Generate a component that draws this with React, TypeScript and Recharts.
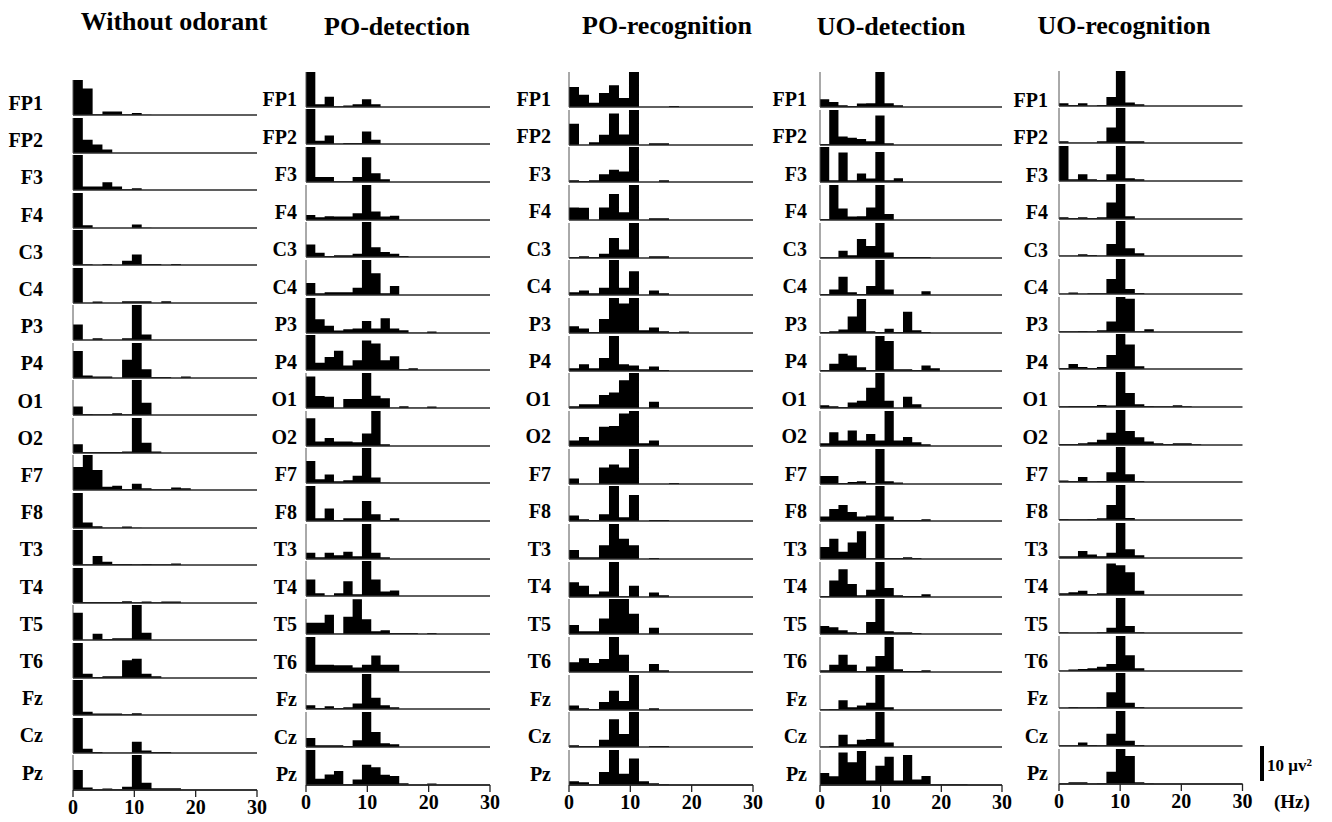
import React from 'react';
import { AreaChart, Area, XAxis, YAxis, BarChart, Bar, ReferenceLine } from 'recharts';

const channels = ['FP1', 'FP2', 'F3', 'F4', 'C3', 'C4', 'P3', 'P4', 'O1', 'O2', 'F7', 'F8', 'T3', 'T4', 'T5', 'T6', 'Fz', 'Cz', 'Pz'];
const conditionTitles = ['Without odorant', 'PO-detection', 'PO-recognition', 'UO-detection', 'UO-recognition'];
const binWidthHz = [1.6, 1.52, 1.63, 1.52, 1.55];
const freqTicks = [0, 10, 20, 30];
const scaleBarValue = [{ name: 'scale', v: 10 }];

const withoutOdorant: number[][] = [
  [10, 7.6, 0.2, 1, 1, 0.2, 0.6, 0.1],
  [10, 3.8, 2.4, 1.0],
  [10, 1.0, 1.0, 2.2, 1.0, 0.2, 0.5],
  [10, 0.8, 0, 0, 0, 0, 1.0, 0.1],
  [10, 0.2, 0, 0.3, 0, 1.2, 3.0, 0.3, 0.3, 0, 0.3],
  [10, 0, 0.4, 0, 0, 0.5, 0.5, 0.5, 0, 0.5],
  [4.4, 0, 0.5, 0, 0, 0.5, 10, 1.6],
  [7.7, 0.7, 0.4, 0.4, 0, 5.2, 10, 2.5, 0.3, 0.3, 0, 0.4],
  [2.4, 0.3, 0.2, 0.2, 0.5, 0.2, 10, 3.5],
  [2.5, 0.3, 0.3, 0.3, 0.3, 0.4, 10, 2.9, 0.4],
  [6.6, 10, 5.7, 0.9, 1.2, 0.3, 1.8, 0.5, 0.2, 0.2, 0.7, 0.5],
  [10, 1.6, 0.5, 0.1, 0.1, 0.4, 0.1],
  [10, 0.2, 2.6, 0.9, 0.3, 0.3, 0.2, 0.3, 0.2, 0.2, 0.4],
  [10, 0.3, 0.3, 0.3, 0.3, 0.5, 0.2, 0.4, 0.2, 0.4, 0.4],
  [7.8, 0, 1.8, 0.3, 0.5, 0.5, 10, 2.1],
  [10, 1.2, 0.3, 0.5, 0.5, 5.1, 5.5, 1.2, 0.5],
  [10, 0.9, 0.4, 0.4, 0.4, 0.2, 0.5],
  [10, 1.2, 0.3, 0.1, 0.1, 0.1, 3.2, 0.7, 0.3, 0.3],
  [5.7, 0.7, 0.2, 0.4, 0.2, 0.9, 10, 2.1, 0.5, 0.5, 0.5],
];

const poDetection: number[][] = [
  [10, 0.8, 2.9, 0.2, 0.4, 0.8, 2.2, 0.8],
  [10, 0.9, 2.4, 0.1, 0.3, 0.3, 3.6, 1.2],
  [10, 1.4, 1.4, 0.2, 0.2, 1.4, 7.1, 2.5, 0.8],
  [1.4, 0.8, 1.1, 1.0, 1.0, 1.9, 10, 2.4, 1.0, 1.2],
  [3.6, 1.2, 0.3, 0.5, 0.5, 0.9, 10, 2.8, 1.4, 0.9, 0.3],
  [3.4, 0.5, 0.8, 0.8, 0.8, 2.1, 10, 6.2, 0.5, 2.6],
  [10, 3.9, 2.1, 0.7, 1.1, 1.3, 3.4, 1.3, 4.2, 1.3, 0.8, 0.1, 0.1, 0.4],
  [10, 2.1, 3.7, 5.5, 1.3, 2.8, 8.4, 7.6, 2.8, 3.9, 0.2, 0.5],
  [9, 3.4, 3.2, 0, 2.6, 2.6, 10, 3.5, 2.8, 0.1, 0.5, 0.1, 0.1, 0.4],
  [7.9, 1.3, 2.3, 1.3, 1.3, 1.1, 3.6, 10, 0.5],
  [6.3, 1.1, 2.4, 0.5, 0.8, 2.1, 10, 1.6, 0.1],
  [10, 0.8, 3.6, 0.3, 0.8, 0.8, 5.7, 1.9, 0.3, 0.8],
  [1.8, 0.5, 1.8, 1.1, 2.1, 0.8, 10, 1.8, 0.5],
  [4.7, 0.8, 0.1, 0.8, 4.2, 0.5, 10, 4.7, 1.3, 1.6],
  [3.2, 3.2, 5.5, 0.1, 4.9, 9.9, 4.2, 0.8, 1.1, 0.3, 0.3, 0.3, 0, 0.3],
  [10, 2.1, 2.1, 1.9, 1.9, 1.3, 2.1, 4.7, 2.1, 2.1],
  [1.1, 0.3, 0.8, 0.3, 0.5, 1.6, 10, 3.2, 1.1, 0.5],
  [2.6, 0.5, 0.5, 0.5, 0.3, 1.9, 10, 4.3, 1.1, 0.8],
  [10, 1.8, 3.0, 4.0, 0.3, 1.6, 5.8, 5.1, 2.9, 2.6, 0.5, 0, 0, 0.4],
];

const poRecognition: number[][] = [
  [5.7, 3.5, 1.2, 4.0, 6.2, 2.6, 10, 0, 0, 0, 0.3],
  [6.1, 0, 0.8, 2.9, 9.0, 3.0, 10, 0, 0.5, 0.5],
  [0.5, 0.3, 0.5, 2.2, 3.5, 3.0, 10, 0, 0, 0.5],
  [3.6, 3.5, 0, 3.6, 7.4, 2.2, 10, 0, 0.5, 0.5],
  [0.3, 0.5, 0.3, 1.2, 5.7, 2.4, 10, 0, 0.5, 0.5],
  [0.8, 1.3, 0.5, 2.1, 10, 2.1, 6.8, 0, 1.3, 0.5],
  [1.9, 1.3, 0.3, 4.0, 10, 8.4, 10, 0.8, 1.6, 0.5, 0.2, 0.4],
  [0.8, 1.9, 0.8, 3.7, 10, 1.9, 1.6, 0.5, 1.3, 0.3],
  [0.5, 1.1, 1.1, 3.7, 4.4, 7.9, 10, 0, 1.8],
  [1.6, 2.6, 1.6, 5.5, 5.7, 9.3, 10, 0.8, 1.6],
  [1.6, 0, 0, 4.7, 5.6, 4.7, 10, 0, 0, 0, 0.3],
  [1.6, 0.5, 0.3, 1.9, 10, 1.1, 7.4, 0, 0.3, 0.3],
  [2.6, 0.5, 0.5, 3.9, 10, 5.8, 3.9, 0, 0.3],
  [4.2, 3.2, 0.8, 1.6, 10, 0.2, 3.2, 0, 1.3, 0.5],
  [2.6, 0.8, 0.8, 4.4, 10, 10, 5.8, 0, 1.8],
  [2.8, 3.9, 2.6, 3.7, 10, 4.9, 0.1, 0.1, 2.3, 0.5],
  [1.3, 0.5, 0.3, 2.3, 5.5, 2.6, 10, 0, 0.5],
  [0.5, 0.3, 0.3, 2.1, 7.9, 3.7, 10, 0, 0.3, 0.3],
  [1.1, 0.8, 0.3, 3.7, 10, 3.2, 7.6, 1.1, 0.5, 0.3],
];

const uoDetection: number[][] = [
  [2.2, 1.4, 0.5, 0.3, 1.0, 1.1, 10, 1.1, 0.5],
  [0.3, 10, 2.4, 2.1, 1.7, 1.1, 8.4, 0.5],
  [10, 0.5, 8.4, 0.5, 2.4, 1.0, 8.6, 0.5, 1.1],
  [0.3, 10, 3.3, 1.0, 1.1, 3.6, 10, 1.7],
  [0.2, 0.2, 2.1, 0.8, 5.4, 3.4, 10, 1.6, 0.3, 0.3, 0.3, 0.3],
  [0.3, 1.6, 5.2, 0.8, 0.3, 2.6, 10, 1.6, 0, 0, 0, 1.1],
  [0.3, 0.5, 1.0, 4.7, 9.7, 0.5, 0.3, 1.2, 0.3, 6.1, 0.8, 0.3],
  [0.3, 2.1, 4.9, 4.4, 1.1, 0.3, 10, 8.6, 0.5, 0.5, 0.3, 1.6, 0.8],
  [0.8, 0.5, 0.3, 1.6, 2.1, 5.8, 10, 2.1, 0, 3.2, 1.1],
  [0.8, 3.9, 1.6, 4.4, 1.6, 3.4, 1.6, 10, 1.6, 2.6, 1.1, 0.5],
  [2.3, 2.3, 0.3, 0.6, 0.8, 0.3, 10, 0.8, 0.4],
  [1.3, 3.4, 4.6, 2.6, 1.3, 1.6, 10, 1.3, 0.3, 0.3, 0.3, 0.5],
  [3.4, 5.8, 2.1, 4.7, 7.9, 0.2, 10, 0.3, 0.3, 0.5, 0.3],
  [0.3, 4.7, 7.9, 3.7, 0.5, 2.1, 10, 2.6, 0.5, 0.3, 0.3, 0.8],
  [2.3, 1.9, 1.1, 0.5, 0.3, 3.4, 10, 0.8, 0.5, 0.5, 0.3],
  [0.5, 2.1, 4.9, 2.1, 0.3, 1.6, 4.6, 10, 0.8, 0.3, 0.3, 0.5],
  [0.2, 0.3, 2.8, 0.8, 1.3, 2.1, 10, 0.8],
  [0.1, 0.3, 3.5, 0.8, 2.1, 2.3, 10, 1.3],
  [3.4, 2.5, 9.3, 6.5, 9.7, 1.3, 5.5, 8.1, 1.3, 8.6, 1.6, 2.6, 0.2, 0.3, 0.3, 0.3],
];

const uoRecognition: number[][] = [
  [0.8, 0.3, 0.8, 0.05, 0.3, 2.6, 10, 1.0, 0.5],
  [0.5, 0.05, 0.05, 0.05, 0.5, 4.4, 10, 0.5, 0.5],
  [10, 0.5, 1.9, 0.5, 0.3, 1.9, 10, 0.8, 0.5],
  [0.5, 0.3, 0.5, 0.3, 0.5, 4.7, 10, 0.8],
  [0.1, 0.1, 0.5, 0.3, 0.1, 3.4, 10, 2.2, 0.8],
  [0.1, 0.4, 0.1, 0.2, 0.2, 4.3, 10, 1.4, 0.3],
  [0.2, 0.2, 0.3, 0.2, 0.5, 3.0, 10, 9.5, 0.2, 0.8],
  [0.3, 1.4, 0.6, 0.3, 0.6, 4.0, 10, 7.0, 0.8],
  [0.2, 0.3, 0.3, 0.3, 0.6, 0.4, 10, 4.0, 0.8, 0.3, 0.2, 0.2, 0.5, 0.2],
  [0.3, 0.3, 0.5, 0.8, 1.5, 3.5, 10, 4.0, 2.2, 1.0, 0.5, 0.3, 0.5, 0.5, 0.2],
  [0.4, 0.3, 1.4, 0.2, 0.3, 2.8, 10, 2.2, 0.3],
  [0.3, 0.2, 0.2, 0.3, 0.5, 4.3, 10, 0.6],
  [0.5, 0.5, 2.0, 1.0, 0.5, 1.5, 10, 2.5, 0.8],
  [0.5, 0.8, 1.2, 0.3, 0.5, 9.0, 8.5, 6.5, 1.2],
  [0.2, 0.1, 0.1, 0.1, 0.2, 1.5, 10, 2.0, 0.2],
  [0.1, 0.4, 0.6, 0.8, 1.2, 2.0, 10, 4.5, 0.8],
  [0.1, 0.3, 0.2, 0.2, 0.3, 4.5, 10, 1.5, 0.3],
  [0.2, 0.2, 1.0, 0.3, 0.2, 3.5, 10, 1.5, 0.3],
  [0.2, 0.5, 0.5, 0.1, 0.3, 3.5, 10, 8.0, 0.5, 0.2],
];

const conditionData = [withoutOdorant, poDetection, poRecognition, uoDetection, uoRecognition];

const FONT = "'Liberation Serif', 'Times New Roman', Times, serif";
const PLOT_H = 35;

const columns = [
  { x0: 73, x30: 257, base0: 115, rowGap: 37.5, labelRight: 43, label0: 103, labelGap: 37.2, titleX: 174, titleY: 22 },
  { x0: 305.5, x30: 489.5, base0: 106.5, rowGap: 37.67, labelRight: 297, label0: 99, labelGap: 37.5, titleX: 397, titleY: 27 },
  { x0: 568.5, x30: 752.5, base0: 107, rowGap: 37.67, labelRight: 551, label0: 98.5, labelGap: 37.5, titleX: 667, titleY: 26 },
  { x0: 820, x30: 1002, base0: 107, rowGap: 37.67, labelRight: 807, label0: 98.5, labelGap: 37.5, titleX: 891, titleY: 27 },
  { x0: 1058.5, x30: 1242, base0: 105.5, rowGap: 37.67, labelRight: 1048, label0: 100, labelGap: 37.4, titleX: 1124, titleY: 26 },
];

function toSteps(values: number[], w: number) {
  const n = Math.ceil(30 / w) + 1;
  const pts: { f: number; v: number }[] = [];
  for (let k = 0; k <= n; k++) pts.push({ f: +(k * w).toFixed(4), v: values[k] ?? 0 });
  return pts;
}

const M = { top: 2, right: 18, bottom: 2, left: 12 };

function Panel({ values, w, x0, x30, base, bottom }: { values: number[]; w: number; x0: number; x30: number; base: number; bottom: boolean }) {
  const plotW = x30 - x0;
  const axisH = bottom ? 32 : 1;
  const height = PLOT_H + M.top + M.bottom + axisH;
  return (
    <div style={{ position: 'absolute', left: x0 - M.left, top: base - PLOT_H - M.top }}>
      <AreaChart width={plotW + M.left + M.right} height={height} data={toSteps(values, w)} margin={M}>
        <XAxis
          type="number"
          dataKey="f"
          domain={[0, 30]}
          allowDataOverflow
          ticks={freqTicks}
          interval={0}
          height={axisH}
          tick={bottom ? { fontFamily: FONT, fontWeight: 700, fontSize: 20, fill: '#000' } : false}
          tickLine={bottom ? { stroke: '#222', strokeWidth: 1.3 } : false}
          tickSize={7}
          tickMargin={3}
          axisLine={bottom ? { stroke: '#2a2a2a', strokeWidth: 1.4 } : false}
        />
        <YAxis type="number" domain={[0, 10]} allowDataOverflow hide />
        <Area
          type="stepAfter"
          dataKey="v"
          stroke="none"
          fill="#000"
          fillOpacity={1}
          isAnimationActive={false}
          dot={false}
          activeDot={false}
        />
        <ReferenceLine y={0} stroke="#2a2a2a" strokeWidth={1.5} />
        <ReferenceLine x={0} stroke="#555" strokeWidth={1} />
      </AreaChart>
    </div>
  );
}

export default function App() {
  return (
    <div style={{ position: 'absolute', left: 0, top: 0, width: 1332, height: 822, background: '#fff', overflow: 'hidden', fontFamily: FONT }}>
      {columns.map((col, c) => (
        <React.Fragment key={c}>
          <div
            style={{
              position: 'absolute',
              left: col.titleX,
              top: col.titleY,
              transform: 'translate(-50%, -50%)',
              fontSize: 26,
              fontWeight: 700,
              whiteSpace: 'nowrap',
              color: '#000',
            }}
          >
            {conditionTitles[c]}
          </div>
          {channels.map((ch, r) => (
            <React.Fragment key={ch}>
              <div
                style={{
                  position: 'absolute',
                  left: col.labelRight - 70,
                  width: 70,
                  top: col.label0 + r * col.labelGap - 12,
                  height: 24,
                  lineHeight: '24px',
                  textAlign: 'right',
                  fontSize: 20,
                  fontWeight: 700,
                  color: '#000',
                }}
              >
                {ch}
              </div>
              <Panel
                values={conditionData[c][r]}
                w={binWidthHz[c]}
                x0={col.x0}
                x30={col.x30}
                base={col.base0 + r * col.rowGap}
                bottom={r === channels.length - 1}
              />
            </React.Fragment>
          ))}
        </React.Fragment>
      ))}
      <div style={{ position: 'absolute', left: 1255, top: 746 }}>
        <BarChart width={14} height={PLOT_H} data={scaleBarValue} margin={{ top: 0, right: 0, bottom: 0, left: 0 }} barCategoryGap={0}>
          <XAxis dataKey="name" hide />
          <YAxis domain={[0, 10]} hide />
          <Bar dataKey="v" fill="#000" barSize={4} isAnimationActive={false} />
        </BarChart>
      </div>
      <div style={{ position: 'absolute', left: 1267, top: 754, fontSize: 17, fontWeight: 700, whiteSpace: 'nowrap', lineHeight: '24px' }}>
        10 μv<sup style={{ fontSize: 11, verticalAlign: 'top', lineHeight: '16px' }}>2</sup>
      </div>
      <div style={{ position: 'absolute', left: 1274, top: 790, fontSize: 19, fontWeight: 700, whiteSpace: 'nowrap', lineHeight: '24px' }}>
        (Hz)
      </div>
    </div>
  );
}
